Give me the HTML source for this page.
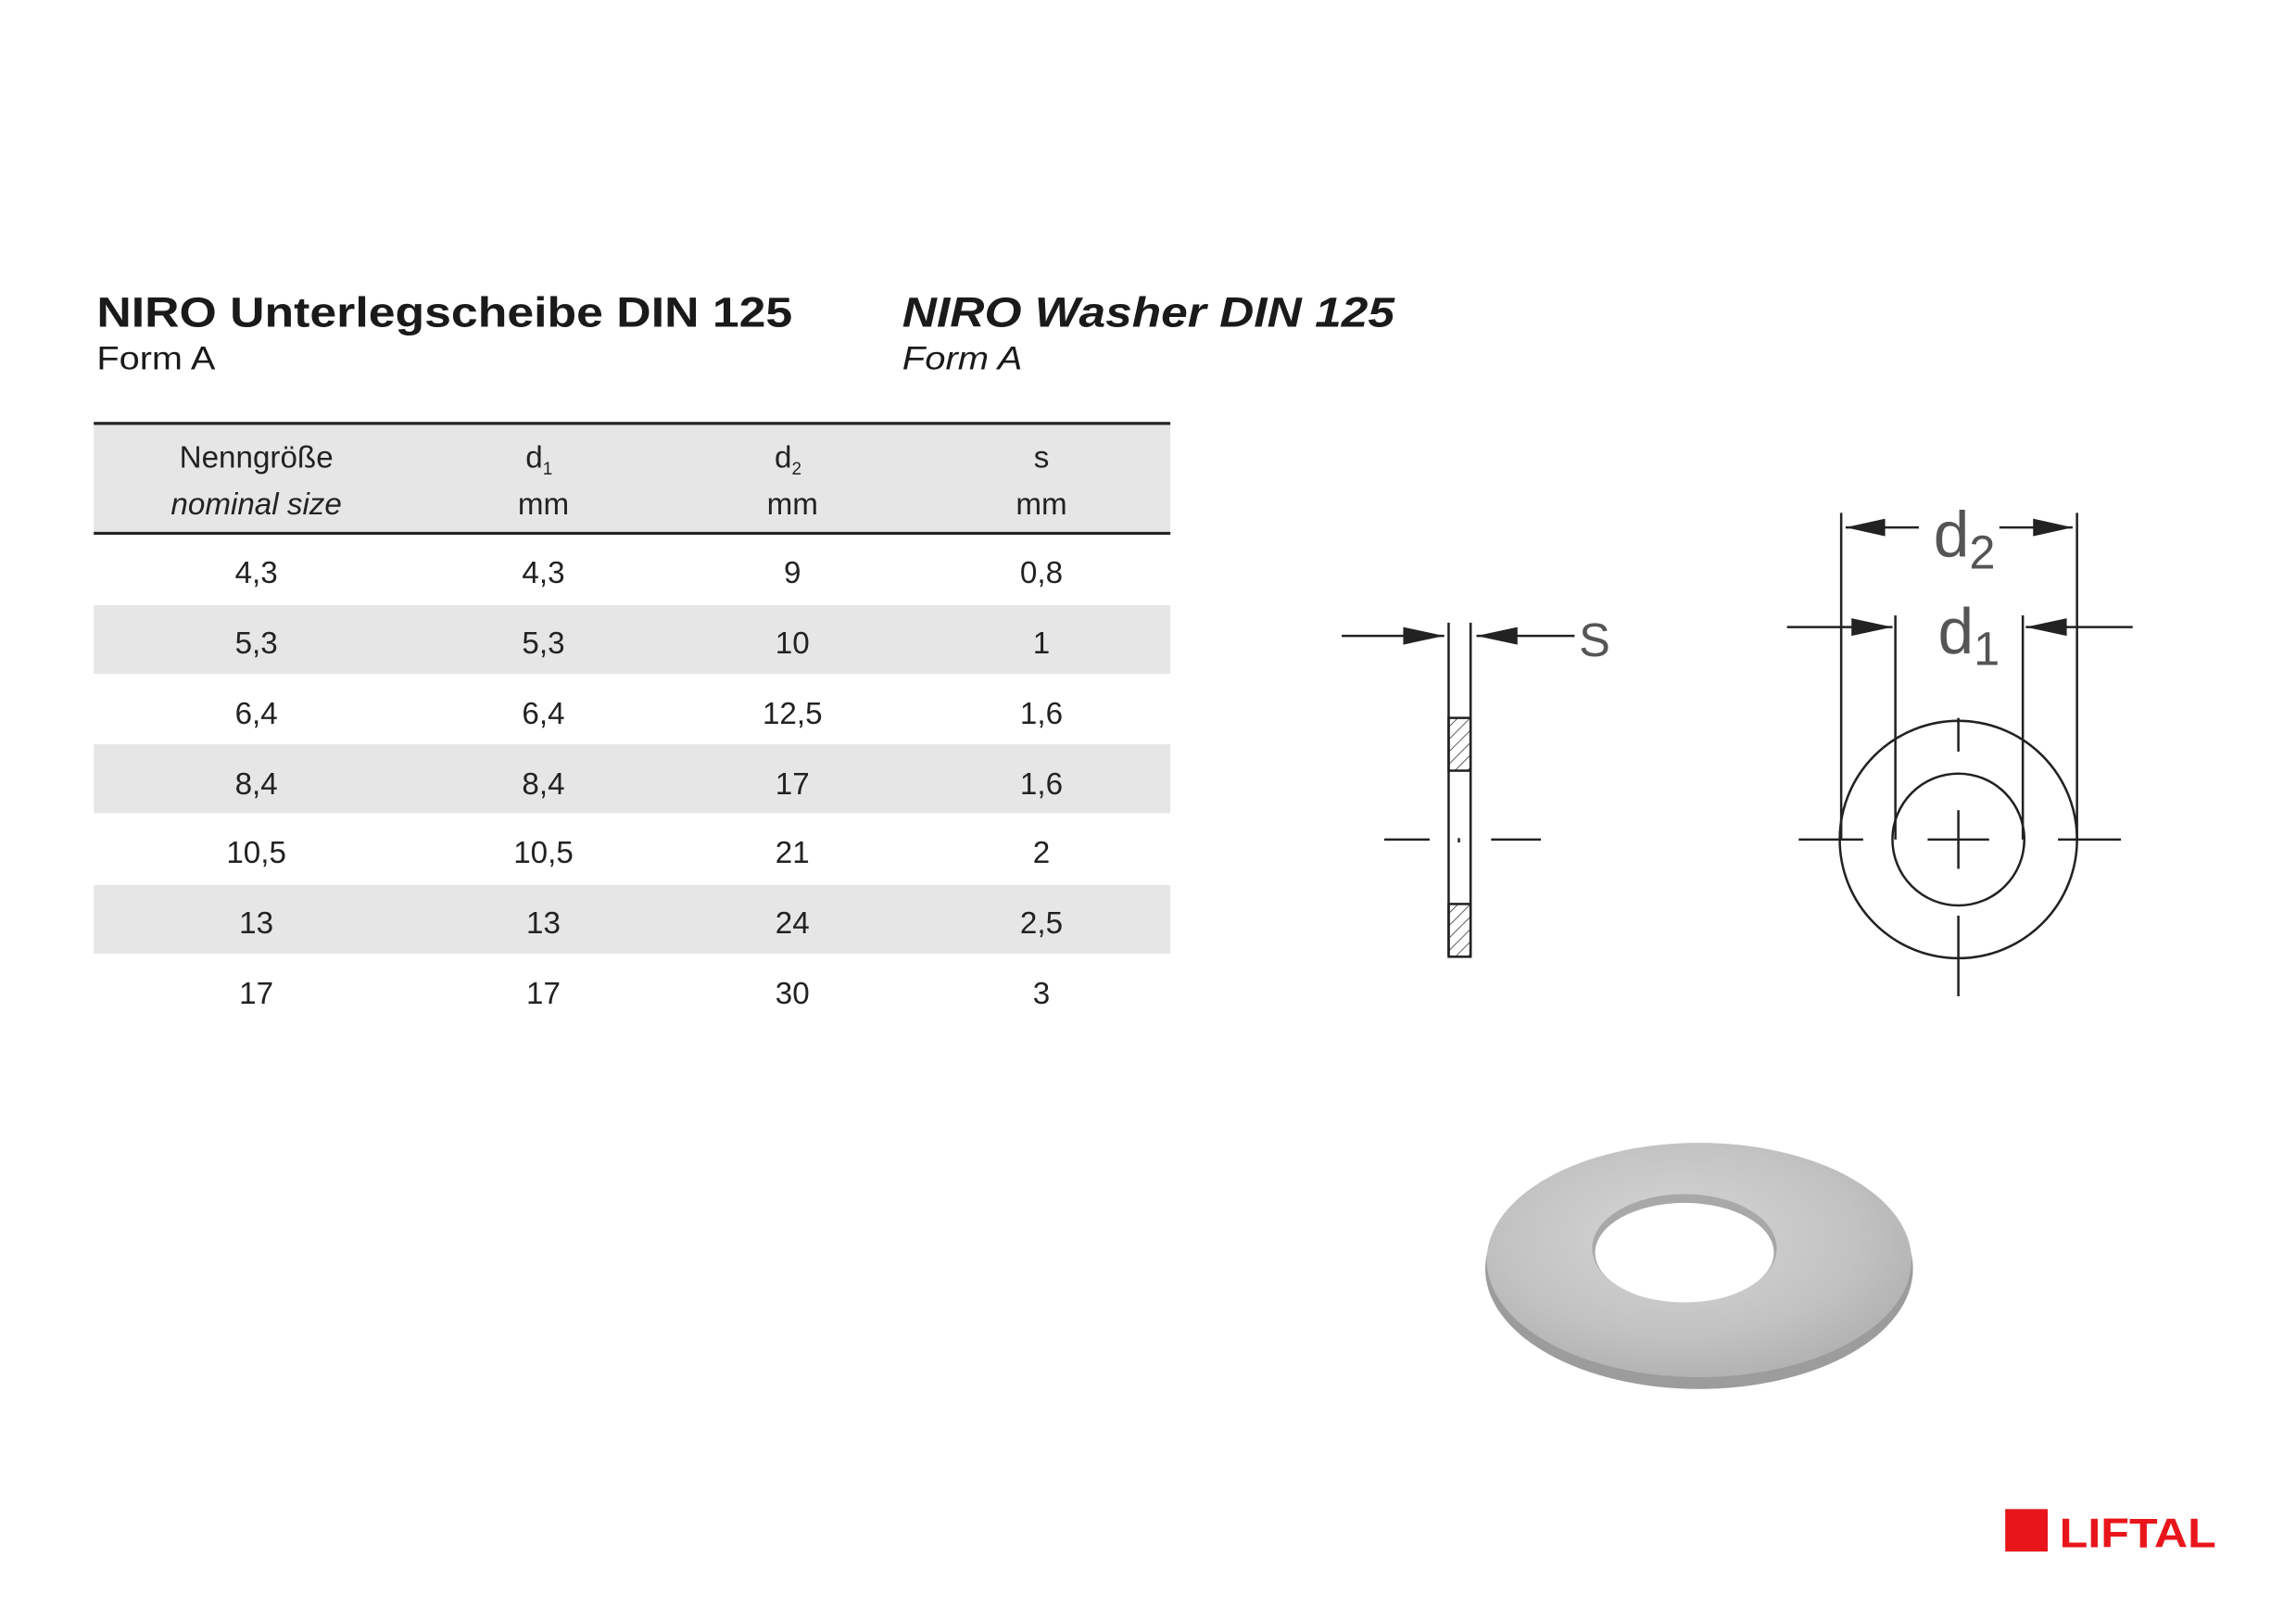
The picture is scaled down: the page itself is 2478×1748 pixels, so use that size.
<!DOCTYPE html>
<html><head><meta charset="utf-8"><style>
html,body{margin:0;padding:0;background:#fff;}
svg{display:block;}
text{font-family:"Liberation Sans",Arial,sans-serif;}
</style></head><body>
<svg width="2478" height="1748" viewBox="0 0 1567.5 1105.7" preserveAspectRatio="none" xmlns="http://www.w3.org/2000/svg">
<defs>
<radialGradient id="wg" cx="45%" cy="40%" r="70%">
<stop offset="0" stop-color="#d6d6d6"/><stop offset="0.6" stop-color="#c2c2c2"/><stop offset="1" stop-color="#ababab"/>
</radialGradient>
<pattern id="hatch" width="6" height="6" patternUnits="userSpaceOnUse" patternTransform="rotate(45)">
<line x1="0" y1="0" x2="0" y2="6" stroke="#333" stroke-width="1"/></pattern>
</defs>
<rect width="1600" height="1120" fill="#fff"/>
<text x="66" y="223" font-size="29" font-weight="bold" fill="#1a1a1a" textLength="475" lengthAdjust="spacingAndGlyphs">NIRO Unterlegscheibe DIN 125</text>
<text x="66" y="252" font-size="22" fill="#1a1a1a" textLength="81" lengthAdjust="spacingAndGlyphs">Form A</text>
<text x="616" y="223" font-size="29" font-weight="bold" font-style="italic" fill="#1a1a1a" textLength="336" lengthAdjust="spacingAndGlyphs">NIRO Washer DIN 125</text>
<text x="616" y="252" font-size="22" font-style="italic" fill="#1a1a1a" textLength="82" lengthAdjust="spacingAndGlyphs">Form A</text>
<rect x="64" y="290" width="735" height="73" fill="#e6e6e6"/>
<line x1="64" y1="289" x2="799" y2="289" stroke="#222" stroke-width="2"/>
<line x1="64" y1="364" x2="799" y2="364" stroke="#222" stroke-width="2"/>
<rect x="64" y="413" width="735" height="47" fill="#e6e6e6"/>
<rect x="64" y="508" width="735" height="47" fill="#e6e6e6"/>
<rect x="64" y="604" width="735" height="47" fill="#e6e6e6"/>
<g font-size="21" fill="#222" text-anchor="middle">
<text x="175" y="319">Nenngröße</text>
<text x="175" y="351" font-style="italic">nominal size</text>
<text x="368" y="319">d<tspan font-size="12" dy="5">1</tspan></text>
<text x="371" y="351">mm</text>
<text x="538" y="319">d<tspan font-size="12" dy="5">2</tspan></text>
<text x="541" y="351">mm</text>
<text x="711" y="319">s</text>
<text x="711" y="351">mm</text>
</g>
<g font-size="21" fill="#222" text-anchor="middle">
<text x="175" y="398">4,3</text><text x="371" y="398">4,3</text><text x="541" y="398">9</text><text x="711" y="398">0,8</text>
<text x="175" y="446">5,3</text><text x="371" y="446">5,3</text><text x="541" y="446">10</text><text x="711" y="446">1</text>
<text x="175" y="494">6,4</text><text x="371" y="494">6,4</text><text x="541" y="494">12,5</text><text x="711" y="494">1,6</text>
<text x="175" y="542">8,4</text><text x="371" y="542">8,4</text><text x="541" y="542">17</text><text x="711" y="542">1,6</text>
<text x="175" y="589">10,5</text><text x="371" y="589">10,5</text><text x="541" y="589">21</text><text x="711" y="589">2</text>
<text x="175" y="637">13</text><text x="371" y="637">13</text><text x="541" y="637">24</text><text x="711" y="637">2,5</text>
<text x="175" y="685">17</text><text x="371" y="685">17</text><text x="541" y="685">30</text><text x="711" y="685">3</text>
</g>
<g stroke="#222" stroke-width="1.6" fill="none">
<line x1="989" y1="652" x2="989" y2="425"/>
<line x1="1004" y1="652" x2="1004" y2="425"/>
<rect x="989" y="490" width="15" height="36" fill="url(#hatch)"/>
<rect x="989" y="617" width="15" height="36" fill="url(#hatch)"/>
<line x1="916" y1="434" x2="986" y2="434"/>
<line x1="1008" y1="434" x2="1075" y2="434"/>
<line x1="945" y1="573" x2="976" y2="573"/>
<line x1="1018" y1="573" x2="1052" y2="573"/>
<line x1="996" y1="572" x2="996" y2="575"/>
</g>
<polygon points="986,434 958,428 958,440" fill="#222"/>
<polygon points="1008,434 1036,428 1036,440" fill="#222"/>
<text x="1078" y="448" font-size="32" fill="#555">S</text>
<g stroke="#222" stroke-width="1.6" fill="none">
<circle cx="1337" cy="573" r="81"/>
<circle cx="1337" cy="573" r="45"/>
<line x1="1257" y1="350" x2="1257" y2="573"/>
<line x1="1418" y1="350" x2="1418" y2="573"/>
<line x1="1294" y1="420" x2="1294" y2="573"/>
<line x1="1381" y1="420" x2="1381" y2="573"/>
<line x1="1260" y1="360" x2="1310" y2="360"/>
<line x1="1365" y1="360" x2="1415" y2="360"/>
<line x1="1220" y1="428" x2="1292" y2="428"/>
<line x1="1383" y1="428" x2="1456" y2="428"/>
<line x1="1228" y1="573" x2="1272" y2="573"/>
<line x1="1316" y1="573" x2="1358" y2="573"/>
<line x1="1405" y1="573" x2="1448" y2="573"/>
<line x1="1337" y1="553" x2="1337" y2="593"/>
<line x1="1337" y1="490" x2="1337" y2="513"/>
<line x1="1337" y1="625" x2="1337" y2="680"/>
</g>
<polygon points="1260,360 1287,354 1287,366" fill="#222"/>
<polygon points="1415,360 1388,354 1388,366" fill="#222"/>
<polygon points="1292,428 1264,422 1264,434" fill="#222"/>
<polygon points="1383,428 1411,422 1411,434" fill="#222"/>
<text x="1320" y="380" font-size="44" fill="#555">d<tspan font-size="32" dy="8">2</tspan></text>
<text x="1323" y="446" font-size="44" fill="#555">d<tspan font-size="32" dy="8">1</tspan></text>
<ellipse cx="1160" cy="866" rx="146" ry="82" fill="#9c9c9c"/>
<ellipse cx="1160" cy="860" rx="145" ry="80" fill="url(#wg)"/>
<ellipse cx="1150" cy="852" rx="63" ry="37" fill="#a8a8a8"/>
<ellipse cx="1150" cy="855" rx="61" ry="34" fill="#fff"/>
<rect x="1369" y="1030" width="29" height="29" fill="#e8161b"/>
<text x="1406" y="1056" font-size="28" font-weight="bold" fill="#e8161b" textLength="107" lengthAdjust="spacingAndGlyphs">LIFTAL</text>
</svg>
</body></html>
